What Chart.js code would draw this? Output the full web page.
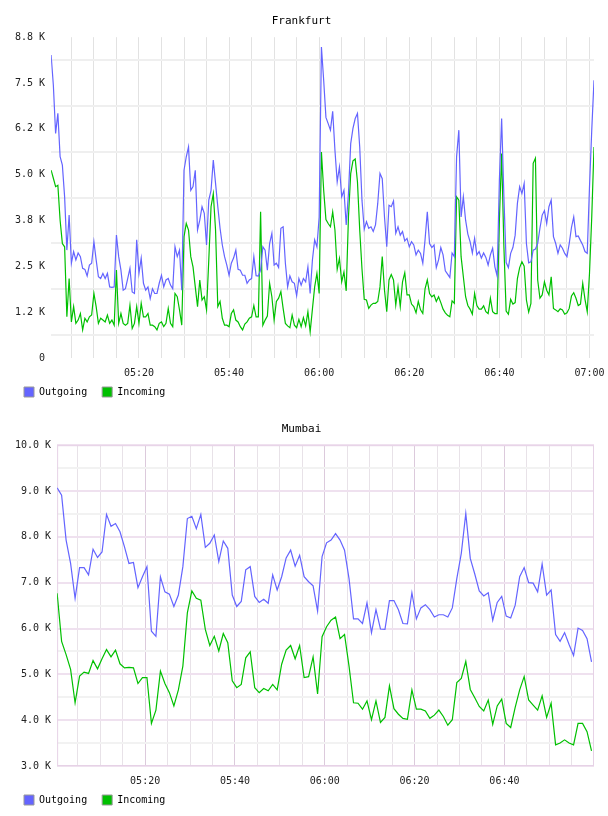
<!DOCTYPE html>
<html>
<head>
<meta charset="utf-8">
<title>Frankfurt / Mumbai traffic</title>
<script src="https://cdn.jsdelivr.net/npm/chart.js@4.4.1/dist/chart.umd.min.js"></script>
<style>
    html, body { margin: 0; padding: 0; background: #fff; overflow: hidden; }
    .box { position: relative; width: 608px; height: 408px; }
</style>
</head>
<body>
<div class="box"><canvas id="frankfurtChart"></canvas></div>
<div class="box"><canvas id="mumbaiChart"></canvas></div>
<script>
// x values are minutes after 05:00
const fraStart = 0.5;   // first sample 05:00:30
const fraStep = 0.5;    // one sample every 30 s
const mumStart = 0.4;   // first sample 05:00:24
const mumStep = 1;      // one sample per minute

// values in K
const fraOutgoing = [
    8.31, 7.48, 6.16, 6.71, 5.52, 5.29, 4.42, 2.96, 3.92, 2.60,
    2.92, 2.69, 2.88, 2.78, 2.46, 2.43, 2.25, 2.55, 2.60, 3.19,
    2.69, 2.23, 2.18, 2.32, 2.18, 2.32, 1.95, 1.94, 1.95, 3.37,
    2.78, 2.41, 1.86, 1.90, 2.18, 2.46, 1.81, 1.77, 3.24, 2.32,
    2.74, 2.05, 1.86, 1.95, 1.63, 1.90, 1.77, 1.77, 2.05, 2.27,
    1.95, 2.14, 2.18, 2.00, 1.90, 3.05, 2.78, 2.96, 1.86, 5.15,
    5.52, 5.79, 4.60, 4.70, 5.15, 3.51, 3.78, 4.15, 3.97, 3.10,
    4.33, 4.60, 5.43, 4.79, 4.15, 3.56, 3.10, 2.78, 2.55, 2.27,
    2.60, 2.74, 2.96, 2.43, 2.41, 2.27, 2.27, 2.05, 2.14, 2.18,
    2.78, 2.26, 2.25, 2.41, 3.05, 2.96, 2.41, 3.14, 3.42, 2.55,
    2.60, 2.48, 3.56, 3.60, 2.60, 1.95, 2.25, 2.09, 2.05, 1.71,
    2.18, 2.00, 2.18, 2.09, 2.50, 1.77, 2.69, 3.24, 3.05, 3.87,
    8.53, 7.62, 6.60, 6.43, 6.25, 6.77, 5.70, 4.83, 5.24, 4.42,
    4.60, 3.65, 4.51, 5.88, 6.30, 6.57, 6.71, 5.79, 4.33, 3.53,
    3.74, 3.56, 3.60, 3.47, 3.65, 4.24, 5.06, 4.92, 3.87, 3.05,
    4.19, 4.15, 4.31, 3.42, 3.60, 3.37, 3.47, 3.21, 3.28, 3.05,
    3.19, 3.10, 2.83, 2.96, 2.87, 2.60, 3.24, 4.01, 3.14, 3.03,
    3.10, 2.48, 2.69, 3.03, 2.83, 2.39, 2.30, 2.21, 2.88, 2.78,
    5.52, 6.25, 3.87, 4.42, 3.78, 3.40, 3.19, 2.88, 3.28, 2.83,
    2.92, 2.74, 2.88, 2.76, 2.55, 2.83, 3.01, 2.50, 2.25, 4.88,
    6.57, 4.42, 2.62, 2.48, 2.87, 3.03, 3.37, 4.24, 4.70, 4.51,
    4.79, 3.14, 2.61, 2.64, 2.96, 2.99, 3.14, 3.56, 3.92, 4.04,
    3.69, 4.15, 4.33, 3.33, 3.14, 2.87, 3.10, 3.01, 2.87, 2.78,
    3.14, 3.58, 3.87, 3.33, 3.35, 3.22, 3.10, 2.92, 2.87, 4.70,
    6.25, 7.62
];
const fraIncoming = [
    5.15, 4.93, 4.70, 4.74, 3.78, 3.14, 3.05, 1.13, 2.18, 0.99,
    1.41, 0.95, 1.04, 1.22, 0.77, 1.09, 0.99, 1.13, 1.18, 1.77,
    1.41, 0.95, 1.09, 1.04, 0.99, 1.18, 0.95, 1.04, 0.90, 2.41,
    0.95, 1.22, 0.95, 0.90, 0.95, 1.45, 0.81, 0.95, 1.41, 0.95,
    1.50, 1.13, 1.13, 1.22, 0.90, 0.90, 0.86, 0.77, 0.95, 0.99,
    0.86, 0.95, 1.36, 0.95, 0.86, 1.77, 1.68, 1.32, 0.90, 3.33,
    3.69, 3.51, 2.78, 2.50, 1.95, 1.41, 2.14, 1.59, 1.68, 1.32,
    2.69, 4.15, 4.51, 3.51, 1.41, 1.55, 1.09, 0.90, 0.90, 0.86,
    1.22, 1.32, 1.04, 0.99, 0.86, 0.77, 0.93, 0.99, 1.09, 1.13,
    1.44, 1.13, 1.13, 4.01, 0.90, 1.04, 1.15, 2.05, 1.68, 1.04,
    1.55, 1.64, 1.82, 1.36, 0.95, 0.88, 0.83, 1.18, 0.90, 0.83,
    1.06, 0.86, 1.11, 0.88, 1.27, 0.72, 1.34, 1.95, 2.32, 1.77,
    5.65, 4.60, 3.80, 3.69, 3.60, 4.01, 3.51, 2.43, 2.73, 2.09,
    2.36, 1.84, 3.87, 5.06, 5.41, 5.46, 4.83, 3.51, 2.45, 1.61,
    1.59, 1.36, 1.45, 1.50, 1.50, 1.55, 1.95, 2.78, 1.86, 1.27,
    2.14, 2.29, 2.14, 1.45, 1.95, 1.41, 2.09, 2.34, 1.73, 1.73,
    1.48, 1.41, 1.24, 1.55, 1.32, 1.22, 1.90, 2.14, 1.77, 1.68,
    1.73, 1.55, 1.68, 1.52, 1.34, 1.24, 1.17, 1.13, 1.57, 1.50,
    4.42, 4.33, 2.78, 2.23, 1.68, 1.44, 1.34, 1.20, 1.77, 1.44,
    1.34, 1.34, 1.43, 1.27, 1.22, 1.64, 1.27, 1.22, 1.22, 3.78,
    5.61, 3.05, 1.29, 1.20, 1.61, 1.48, 1.52, 2.18, 2.48, 2.64,
    2.52, 1.59, 1.26, 1.50, 5.34, 5.48, 2.14, 1.64, 1.73, 2.09,
    1.86, 1.73, 2.23, 1.36, 1.32, 1.27, 1.35, 1.32, 1.20, 1.24,
    1.36, 1.70, 1.79, 1.64, 1.44, 1.48, 2.05, 1.61, 1.27, 2.32,
    3.87, 5.79
];
const mumOutgoing = [
    9.07, 8.91, 7.93, 7.42, 6.66, 7.33, 7.33, 7.17, 7.73, 7.55,
    7.67, 8.49, 8.23, 8.29, 8.11, 7.78, 7.42, 7.44, 6.89, 7.13,
    7.35, 5.94, 5.83, 7.13, 6.80, 6.75, 6.48, 6.73, 7.35, 8.40,
    8.45, 8.18, 8.49, 7.77, 7.86, 8.04, 7.46, 7.91, 7.75, 6.73,
    6.48, 6.59, 7.28, 7.35, 6.70, 6.57, 6.64, 6.55, 7.17, 6.84,
    7.13, 7.54, 7.71, 7.36, 7.60, 7.13, 7.02, 6.93, 6.38, 7.57,
    7.87, 7.93, 8.07, 7.93, 7.71, 7.09, 6.21, 6.21, 6.11, 6.56,
    5.91, 6.41, 5.99, 5.98, 6.61, 6.61, 6.41, 6.11, 6.10, 6.78,
    6.21, 6.45, 6.52, 6.41, 6.25, 6.30, 6.30, 6.25, 6.45, 7.09,
    7.64, 8.51, 7.53, 7.19, 6.82, 6.71, 6.78, 6.18, 6.57, 6.70,
    6.27, 6.23, 6.51, 7.13, 7.33, 7.00, 6.99, 6.80, 7.41, 6.73,
    6.84, 5.87, 5.72, 5.91, 5.65, 5.41, 6.01, 5.96, 5.78, 5.27
];
const mumIncoming = [
    6.77, 5.72, 5.43, 5.11, 4.38, 4.96, 5.05, 5.02, 5.30, 5.12,
    5.34, 5.54, 5.38, 5.53, 5.23, 5.14, 5.15, 5.14, 4.80, 4.93,
    4.93, 3.93, 4.22, 5.07, 4.80, 4.60, 4.31, 4.66, 5.18, 6.34,
    6.82, 6.66, 6.62, 5.98, 5.63, 5.83, 5.51, 5.89, 5.69, 4.86,
    4.71, 4.78, 5.36, 5.49, 4.71, 4.60, 4.69, 4.64, 4.78, 4.66,
    5.22, 5.53, 5.63, 5.34, 5.63, 4.93, 4.95, 5.38, 4.57, 5.82,
    6.04, 6.18, 6.25, 5.78, 5.87, 5.18, 4.38, 4.37, 4.24, 4.42,
    4.01, 4.42, 3.95, 4.06, 4.75, 4.25, 4.13, 4.04, 4.02, 4.66,
    4.24, 4.24, 4.20, 4.04, 4.11, 4.22, 4.08, 3.89, 4.01, 4.82,
    4.91, 5.28, 4.67, 4.49, 4.30, 4.20, 4.44, 3.91, 4.31, 4.46,
    3.93, 3.84, 4.28, 4.66, 4.95, 4.44, 4.33, 4.22, 4.53, 4.06,
    4.37, 3.46, 3.50, 3.57, 3.50, 3.46, 3.93, 3.93, 3.75, 3.33
];

const fraYTicks = [0, 1.257, 2.514, 3.771, 5.029, 6.286, 7.543, 8.8];
const fraYLabels = ['0', '1.2 K', '2.5 K', '3.8 K', '5.0 K', '6.2 K', '7.5 K', '8.8 K'];
const mumYTicks = [3, 4, 5, 6, 7, 8, 9, 10];
const mumYLabels = ['3.0 K', '4.0 K', '5.0 K', '6.0 K', '7.0 K', '8.0 K', '9.0 K', '10.0 K'];
const fraXLabels = ['05:20', '05:40', '06:00', '06:20', '06:40', '07:00'];
const mumXLabels = ['05:20', '05:40', '06:00', '06:20', '06:40'];

const monoFont = "'DejaVu Sans Mono', monospace";
const outColor = '#6464ff';
const inColor = '#00c000';

function toPoints(values, start, step) {
    return values.map(function(v, i) {
        return {x: start + i * step, y: v};
    });
}

function clockLabel(min) {
    const h = 5 + Math.floor(min / 60);
    const m = Math.round(min % 60);
    return String(h).padStart(2, '0') + ':' + String(m).padStart(2, '0');
}

function tickIndex(list, value) {
    return list.findIndex(function(t) { return Math.abs(t - value) < 1e-6; });
}

// outline of the plot area (Mumbai only)
const plotFrame = {
    id: 'plotFrame',
    beforeDatasetsDraw: function(chart, args, opts) {
        if (!opts.color) return;
        const a = chart.chartArea;
        const ctx = chart.ctx;
        ctx.save();
        ctx.strokeStyle = opts.color;
        ctx.lineWidth = 1;
        ctx.strokeRect(a.left + 0.5, a.top + 0.5, a.right - a.left - 1, a.bottom - a.top - 1);
        ctx.restore();
    }
};

// pull the legend up a little, closer to the time labels
const legendNudge = {
    id: 'legendNudge',
    afterLayout: function(chart, args, opts) {
        const lg = chart.legend;
        if (lg && opts.dy) {
            lg.top += opts.dy;
            lg.bottom += opts.dy;
        }
    }
};

function cityChart(canvasId, o) {
    const ctx = document.getElementById(canvasId).getContext('2d');

    return new Chart(ctx, {
        type: 'line',
        data: {
            datasets: [{
                label: 'Outgoing',
                data: toPoints(o.outgoing, o.start, o.step),
                borderColor: outColor,
                borderWidth: 1.2,
                pointRadius: 0,
                tension: 0
            }, {
                label: 'Incoming',
                data: toPoints(o.incoming, o.start, o.step),
                borderColor: inColor,
                borderWidth: 1.2,
                pointRadius: 0,
                tension: 0
            }]
        },
        plugins: [plotFrame, legendNudge],
        options: {
            responsive: true,
            maintainAspectRatio: false,
            animation: false,
            devicePixelRatio: 1,
            layout: {
                padding: {left: 9, right: 14, top: 6, bottom: -6}
            },
            plugins: {
                plotFrame: {color: o.frameColor},
                legendNudge: {dy: -7},
                tooltip: {enabled: false},
                title: {
                    display: true,
                    text: o.title,
                    color: '#000',
                    font: {family: monoFont, size: 11, weight: 'normal'},
                    padding: {top: 9, bottom: 9}
                },
                legend: {
                    position: 'bottom',
                    align: 'start',
                    labels: {
                        boxWidth: 10,
                        boxHeight: 10,
                        padding: 15,
                        color: '#000',
                        font: {family: monoFont, size: 10},
                        generateLabels: function(chart) {
                            return chart.data.datasets.map(function(ds, i) {
                                return {
                                    text: ds.label,
                                    fillStyle: ds.borderColor,
                                    strokeStyle: '#999999',
                                    lineWidth: 1,
                                    hidden: false,
                                    datasetIndex: i
                                };
                            });
                        }
                    }
                }
            },
            scales: {
                x: {
                    type: 'linear',
                    min: o.xMin,
                    max: o.xMax,
                    afterBuildTicks: function(scale) {
                        const ticks = [];
                        for (let m = 5; m <= scale.max; m += 5) {
                            if (m >= scale.min) ticks.push({value: m});
                        }
                        scale.ticks = ticks;
                    },
                    afterFit: function(scale) {
                        scale.height = 21;
                        scale.paddingLeft = 0;
                        scale.paddingRight = 0;
                    },
                    border: {display: false},
                    grid: {
                        drawTicks: false,
                        lineWidth: 1,
                        color: function(c) {
                            if (!c.tick) return o.xMinor;
                            return o.xLabels.indexOf(clockLabel(c.tick.value)) >= 0 ? o.xMajor : o.xMinor;
                        }
                    },
                    ticks: {
                        padding: 9,
                        maxRotation: 0,
                        autoSkip: false,
                        color: '#222',
                        font: {family: monoFont, size: 10},
                        callback: function(value) {
                            const s = clockLabel(value);
                            return o.xLabels.indexOf(s) >= 0 ? s : '';
                        }
                    }
                },
                y: {
                    min: o.yTicks[0],
                    max: o.yTicks[o.yTicks.length - 1],
                    afterBuildTicks: function(scale) {
                        const ticks = [];
                        o.yTicks.forEach(function(v, i) {
                            ticks.push({value: v});
                            if (i < o.yTicks.length - 1) ticks.push({value: (v + o.yTicks[i + 1]) / 2});
                        });
                        scale.ticks = ticks;
                    },
                    border: {display: false},
                    grid: {
                        drawTicks: false,
                        lineWidth: 2,
                        color: function(c) {
                            if (!c.tick) return o.yMinor;
                            return tickIndex(o.yTicks, c.tick.value) >= 0 ? o.yMajor : o.yMinor;
                        }
                    },
                    ticks: {
                        padding: 6,
                        color: '#222',
                        font: {family: monoFont, size: 10},
                        callback: function(value) {
                            const i = tickIndex(o.yTicks, value);
                            return i >= 0 ? o.yLabels[i] : '';
                        }
                    }
                }
            }
        }
    });
}

cityChart('frankfurtChart', {
    title: 'Frankfurt',
    outgoing: fraOutgoing,
    incoming: fraIncoming,
    start: fraStart,
    step: fraStep,
    xMin: 0.5,
    xMax: 121,
    xLabels: fraXLabels,
    yTicks: fraYTicks,
    yLabels: fraYLabels,
    xMajor: '#e2e2e2',
    xMinor: '#e2e2e2',
    yMajor: 'rgba(0,0,0,0)',
    yMinor: '#efefef',
    frameColor: null
});

cityChart('mumbaiChart', {
    title: 'Mumbai',
    outgoing: mumOutgoing,
    incoming: mumIncoming,
    start: mumStart,
    step: mumStep,
    xMin: 0.4,
    xMax: 119.95,
    xLabels: mumXLabels,
    yTicks: mumYTicks,
    yLabels: mumYLabels,
    xMajor: '#dccadc',
    xMinor: '#e8e2e8',
    yMajor: '#efe1ef',
    yMinor: '#f2f2f2',
    frameColor: '#e6d2e6'
});
</script>
</body>
</html>
